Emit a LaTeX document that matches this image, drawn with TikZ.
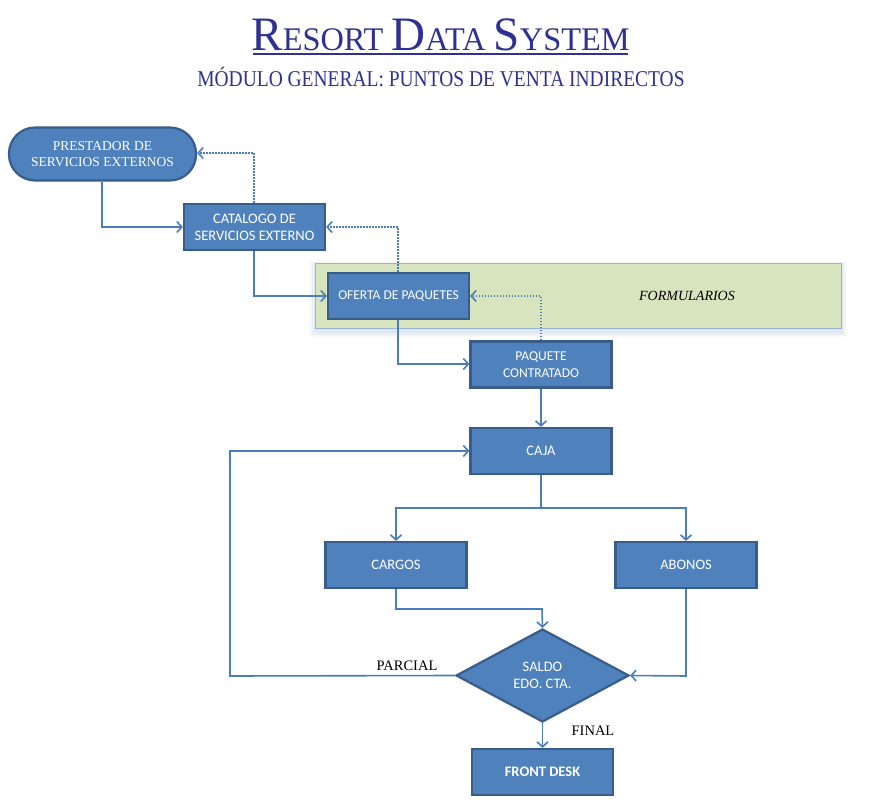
\documentclass[tikz,border=0pt]{standalone}
\usepackage{fontspec}
\setmainfont{Liberation Serif}
\newfontfamily\boxfont{Carlito}
\usetikzlibrary{arrows.meta,shapes.geometric}
\definecolor{boxfill}{RGB}{79,129,189}
\definecolor{boxline}{RGB}{56,93,138}
\definecolor{conn}{RGB}{74,126,187}
\definecolor{titleblue}{RGB}{46,49,146}
\definecolor{bandfill}{RGB}{215,228,189}
\definecolor{bandline}{RGB}{149,179,215}
\definecolor{shadowblue}{RGB}{160,180,215}
\begin{document}
\begin{tikzpicture}[x=1pt,y=-1pt,
  box/.style={draw=boxline, line width=2.2pt, fill=boxfill, text=white,
    font=\boxfont\fontsize{14.5}{17}\selectfont, align=center,
    minimum width=141pt, minimum height=46pt, inner sep=2pt},
  link/.style={draw=conn, line width=1.6pt, -{Straight Barb[length=5pt,width=11pt]}},
  back/.style={link, dash pattern=on 1.6pt off 1.4pt},
  lbl/.style={font=\fontsize{14.5}{16}\selectfont, text=black, inner sep=0pt}]
\useasboundingbox (0,0) rectangle (881,810);
\fill[white] (0,0) rectangle (881,810);
% title
\node[anchor=base, inner sep=0pt, text=titleblue] (title) at (440.5,51)
  {\scalebox{0.98}[1]{\fontsize{48}{50}\selectfont R\fontsize{33}{35}\selectfont ESORT
   \fontsize{48}{50}\selectfont D\fontsize{33}{35}\selectfont ATA
   \fontsize{48}{50}\selectfont S\fontsize{33}{35}\selectfont YSTEM}};
\draw[titleblue, line width=1.5pt] (253,54) -- (628,54);
\node[anchor=base, inner sep=0pt, text=titleblue] (subtitle) at (441,87)
  {\scalebox{0.95}[1.1]{\fontsize{20.5}{22}\selectfont MÓDULO GENERAL: PUNTOS DE VENTA INDIRECTOS}};
% band with shadow
\foreach \o/\op in {6/0.05,4.5/0.07,3/0.09,1.5/0.11}{
  \fill[shadowblue, opacity=\op] (315-\o,263-\o+4) rectangle (841+\o,328+\o+4);}
\node[draw=bandline, line width=0.8pt, fill=bandfill, minimum width=526pt, minimum height=65pt, inner sep=0pt] (band) at (578,295.5) {};
\node[lbl, font=\itshape\fontsize{14}{16}\selectfont] (formularios) at (687,296) {FORMULARIOS};
% nodes
\node[box, rounded corners=26pt, minimum width=187pt, minimum height=53pt,
  font=\fontsize{13.5}{16}\selectfont] (prest) at (102.5,154)
  {PRESTADOR DE\\SERVICIOS EXTERNOS};
\node[box] (cat) at (254.5,227) {CATALOGO DE\\SERVICIOS EXTERNO};
\node[box, font=\boxfont\fontsize{13.5}{16}\selectfont] (oferta) at (398.5,296) {OFERTA DE PAQUETES};
\node[box, font=\boxfont\fontsize{13.5}{17}\selectfont] (paquete) at (541,364.5) {PAQUETE\\CONTRATADO};
\node[box] (caja) at (541,451) {CAJA};
\node[box] (cargos) at (396,565) {CARGOS};
\node[box] (abonos) at (686,565) {ABONOS};
\node[box, shape=diamond, minimum width=173pt, minimum height=93pt, inner sep=0pt] (saldo) at (542.5,675.5) {SALDO\\EDO. CTA.};
\node[box, font=\boxfont\bfseries\fontsize{14.5}{17}\selectfont] (front) at (542.5,772) {FRONT DESK};
% coordinates
\coordinate (c1) at (102,227);
\coordinate (c2) at (254,153);
\coordinate (c3) at (254,296);
\coordinate (c4) at (398,227);
\coordinate (c5) at (398,364);
\coordinate (c6) at (541,296);
\coordinate (c7) at (230,676);
\coordinate (c8) at (230,451);
\coordinate (c9) at (541,508);
\coordinate (c10) at (396,508);
\coordinate (c11) at (686,508);
\coordinate (c12) at (396,609);
\coordinate (c13) at (542,609);
\coordinate (c14) at (686,676);
% connectors
\draw[link] (prest.south -| c1) -- (c1) -- (cat.west);
\draw[back] (cat.north -| c2) -- (c2) -- (prest.east |- c2);
\draw[link] (cat.south -| c3) -- (c3) -- (oferta.west);
\draw[back] (oferta.north -| c4) -- (c4) -- (cat.east);
\draw[link] (oferta.south -| c5) -- (c5) -- (paquete.west |- c5);
\draw[back] (paquete.north -| c6) -- (c6) -- (oferta.east);
\draw[link] (paquete.south) -- (caja.north);
\draw[link] (saldo.west) -- (c7) -- (c8) -- (caja.west);
\draw[link] (caja.south) -- (c9) -- (c10) -- (cargos.north);
\draw[link] (c9) -- (c11) -- (abonos.north);
\draw[link] (cargos.south) -- (c12) -- (c13) -- (saldo.north);
\draw[link] (abonos.south) -- (c14) -- (saldo.east);
\draw[link] (saldo.south) -- (front.north);
\node[lbl] (parcial) at (407,666) {PARCIAL};
\node[lbl] (final) at (593,731) {FINAL};
\end{tikzpicture}
\end{document}
